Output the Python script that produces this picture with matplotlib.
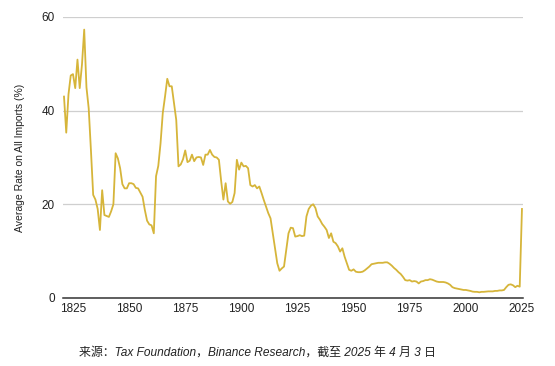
import numpy as np
import matplotlib
matplotlib.use("Agg")
import matplotlib.pyplot as plt

plt.rcParams['font.family'] = ['Liberation Sans', 'Noto Sans CJK SC', 'DejaVu Sans']

# average tariff rate on all imports (%), one value per year 1821-2025
years = np.arange(1821, 2026)
rate = [
    43.0, 35.3, 43.5, 47.5, 47.8, 44.8, 50.9, 44.8, 49.8, 57.3,   # 1821-1830
    45.0, 40.5, 31.5, 22.0, 21.0, 19.0, 14.5, 23.0, 17.7, 17.5,   # 1831-1840
    17.3, 18.5, 20.0, 30.9, 29.8, 27.7, 24.3, 23.4, 23.4, 24.5,   # 1841-1850
    24.5, 24.3, 23.5, 23.4, 22.5, 21.6, 18.8, 16.5, 15.7, 15.5,   # 1851-1860
    13.8, 26.0, 28.2, 33.0, 39.5, 43.0, 46.8, 45.2, 45.2, 41.6,   # 1861-1870
    38.0, 28.1, 28.5, 29.6, 31.5, 29.0, 29.3, 30.6, 29.2, 30.0,   # 1871-1880
    30.1, 30.0, 28.4, 30.6, 30.6, 31.6, 30.6, 30.1, 30.0, 29.5,   # 1881-1890
    25.0, 21.0, 24.5, 20.6, 20.1, 20.5, 22.4, 29.5, 27.4, 28.9,   # 1891-1900
    28.1, 28.2, 27.7, 24.1, 23.8, 24.1, 23.4, 23.8, 22.4, 20.9,   # 1901-1910
    19.5, 18.1, 17.0, 13.8, 10.6, 7.4, 5.8, 6.3, 6.7, 10.3,       # 1911-1920
    13.8, 15.0, 14.9, 13.1, 13.2, 13.4, 13.2, 13.3, 17.4, 19.0,   # 1921-1930
    19.7, 20.0, 19.2, 17.4, 16.7, 15.8, 15.2, 14.5, 12.8, 13.8,   # 1931-1940
    12.0, 11.7, 11.0, 9.9, 10.6, 8.8, 7.4, 6.0, 5.8, 6.1,         # 1941-1950
    5.6, 5.5, 5.5, 5.6, 5.9, 6.3, 6.7, 7.2, 7.3, 7.4,             # 1951-1960
    7.5, 7.5, 7.5, 7.6, 7.6, 7.3, 6.9, 6.4, 6.0, 5.5,             # 1961-1970
    5.1, 4.5, 3.8, 3.7, 3.8, 3.5, 3.6, 3.5, 3.1, 3.5,             # 1971-1980
    3.6, 3.8, 3.8, 4.0, 3.9, 3.7, 3.5, 3.4, 3.4, 3.4,             # 1981-1990
    3.3, 3.1, 2.8, 2.3, 2.1, 2.0, 1.9, 1.8, 1.7, 1.7,             # 1991-2000
    1.6, 1.5, 1.35, 1.3, 1.3, 1.2, 1.3, 1.3, 1.35, 1.4,           # 2001-2010
    1.4, 1.4, 1.5, 1.5, 1.6, 1.6, 1.7, 2.3, 2.8, 2.9,             # 2011-2020
    2.7, 2.3, 2.6, 2.4, 19.0,                                     # 2021-2025
]
assert len(rate) == len(years)

x_ticks = [1825, 1850, 1875, 1900, 1925, 1950, 1975, 2000, 2025]
y_ticks = [0, 20, 40, 60]

fig = plt.figure(figsize=(5.55, 3.66), dpi=100)
ax = fig.add_axes([0.1135, 0.186, 0.8288, 0.7676])

ax.plot(years, rate, color='#D6B53A', lw=1.3, solid_joinstyle='round', zorder=3)

ax.set_xlim(1820.55, 2025.45)
ax.set_ylim(0, 60)
ax.set_xticks(x_ticks)
ax.set_yticks(y_ticks)
ax.tick_params(length=0, labelsize=8.5, colors='#222222', pad=4)
ax.tick_params(axis='y', pad=6)

ax.grid(axis='y', color='#cfcfcf', lw=0.9)
ax.set_axisbelow(True)
for s in ['top', 'right', 'left']:
    ax.spines[s].set_visible(False)
ax.spines['bottom'].set_color('#333333')
ax.spines['bottom'].set_linewidth(1.1)

ax.set_ylabel('Average Rate on All Imports (%)', fontsize=7.5, color='#222222', labelpad=12)

fig.text(0.463, 0.037, '来源：Tax Foundation，Binance Research，截至 2025 年 4 月 3 日',
         ha='center', va='center', fontsize=8.6, style='italic', color='#222222')

fig.savefig('out.png', dpi=100, facecolor='white')
